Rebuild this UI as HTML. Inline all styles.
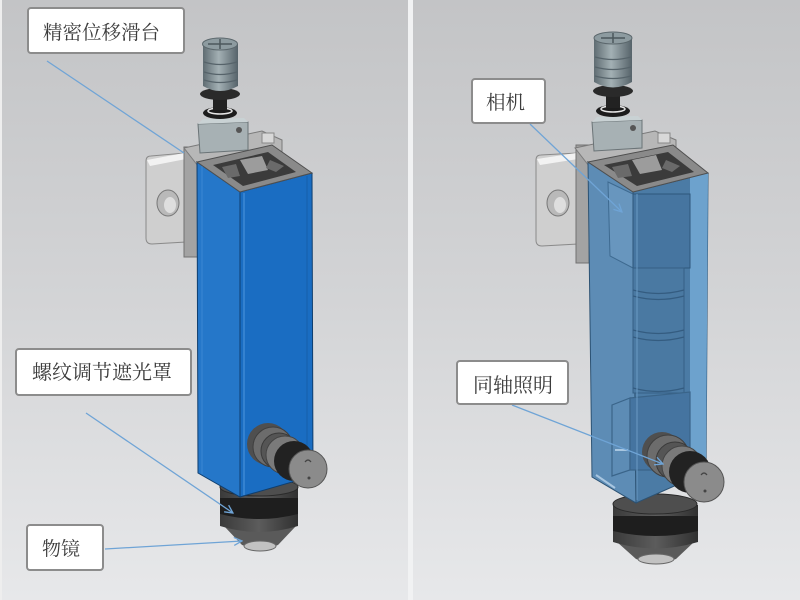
<!DOCTYPE html>
<html><head><meta charset="utf-8"><style>
html,body{margin:0;padding:0;width:800px;height:600px;overflow:hidden;background:#d6d7d9}
svg{display:block}
</style></head><body>
<svg width="800" height="600" viewBox="0 0 800 600" xmlns="http://www.w3.org/2000/svg">
<defs>
<linearGradient id="bg" x1="0" y1="0" x2="0" y2="1">
<stop offset="0" stop-color="#c3c4c6"/><stop offset="0.5" stop-color="#d3d4d6"/><stop offset="1" stop-color="#e7e8ea"/>
</linearGradient>
<linearGradient id="knob" x1="0" y1="0" x2="1" y2="0">
<stop offset="0" stop-color="#5f6c72"/><stop offset="0.45" stop-color="#a3b0b4"/><stop offset="1" stop-color="#56636a"/>
</linearGradient>
<linearGradient id="ring" x1="0" y1="0" x2="1" y2="0">
<stop offset="0" stop-color="#3a3a3a"/><stop offset="0.5" stop-color="#5c5c5c"/><stop offset="1" stop-color="#303030"/>
</linearGradient>
<marker id="ar" markerWidth="10" markerHeight="10" refX="9" refY="5" orient="auto" markerUnits="userSpaceOnUse">
<path d="M1,1 L9,5 L1,9" fill="none" stroke="#6fa4d6" stroke-width="1.3"/>
</marker>
</defs>
<rect width="800" height="600" fill="url(#bg)"/>
<rect x="0" y="0" width="2" height="600" fill="#eeeeee"/>
<rect x="408" y="0" width="5" height="600" fill="#f1f2f3"/>

<!-- ================= LEFT DEVICE ================= -->
<!-- bracket plate -->
<path d="M146,161 Q146,156 151,156 L185,153 L186,242 L152,244 Q146,244 146,238 Z" fill="#cfcfcf" stroke="#8a8a8a"/>
<path d="M147,160 L184,153 L186,159 L150,166 Z" fill="#f2f2f2"/>
<ellipse cx="168" cy="203" rx="11" ry="13" fill="#b9b9b9" stroke="#777"/>
<ellipse cx="170" cy="205" rx="6" ry="8" fill="#dedede"/>
<!-- gray strip -->
<rect x="184" y="147" width="14" height="110" fill="#a3a3a3" stroke="#727272"/>
<!-- gray plate behind top -->
<polygon points="184,148 262,131 282,140 282,152 198,166" fill="#b7b7b7" stroke="#7a7a7a"/>
<rect x="262" y="133" width="12" height="10" fill="#d8d8d8" stroke="#888"/>
<!-- knob block -->
<polygon points="198,124 248,122 248,150 200,153" fill="#a7b1b4" stroke="#6a7376"/>
<polygon points="198,124 248,122 244,118 203,119" fill="#c9d2d4"/>
<circle cx="239" cy="130" r="3" fill="#555"/>
<!-- rings -->
<ellipse cx="220" cy="113" rx="17" ry="6" fill="#1c1c1c"/>
<ellipse cx="220" cy="111" rx="12" ry="3" fill="none" stroke="#e6e6e6" stroke-width="1.5"/>
<rect x="213" y="96" width="14" height="14" fill="#222"/>
<ellipse cx="220" cy="94" rx="20" ry="6" fill="#2a2a2a"/>
<!-- knob -->
<path d="M203,44 L238,44 L238,86 Q220,96 203,86 Z" fill="url(#knob)"/>
<ellipse cx="220" cy="44" rx="17.5" ry="6" fill="#8d9ba0" stroke="#5b676c"/>
<path d="M208,44 L232,44 M220,39 L220,49" stroke="#4c585c" stroke-width="1.5"/>
<path d="M204,62 Q220,67 237,62 M204,72 Q220,77 237,72 M204,80 Q220,85 237,80" fill="none" stroke="#56636a" stroke-width="1.2"/>

<!-- lens ring (behind box) -->
<path d="M224,526 L242,545 Q260,552 278,545 L296,526 Z" fill="#5a5a5a"/>
<ellipse cx="260" cy="546" rx="16" ry="5" fill="#c2c2c2" stroke="#666"/>
<path d="M220,488 L220,526 Q259,538 298,526 L298,488 Z" fill="url(#ring)"/>
<path d="M220,498 L298,498 L298,514 Q259,524 220,514 Z" fill="#1e1e1e"/>
<ellipse cx="259" cy="487" rx="39" ry="9" fill="#4e4e4e" stroke="#2a2a2a"/>

<!-- blue box -->
<polygon points="197,162 240,192 240,497 198,473" fill="#2577c9" stroke="#0f3e6e"/>
<polygon points="240,192 312,173 313,476 240,497" fill="#1a6dc2" stroke="#0f3e6e"/>
<line x1="244" y1="193" x2="244" y2="495" stroke="#4f98dd" stroke-width="1"/>
<line x1="307" y1="176" x2="307" y2="476" stroke="#1660aa" stroke-width="1"/>
<line x1="202" y1="166" x2="202" y2="474" stroke="#3b87d2" stroke-width="1"/>
<!-- top face -->
<polygon points="197,162 272,145 312,173 240,192" fill="#8a8a8a" stroke="#4f4f4f"/>
<polygon points="213,165 268,152 296,172 243,186" fill="#3b3b3b"/>
<polygon points="240,160 262,156 268,170 248,174" fill="#9c9c9c"/>
<polygon points="222,167 236,164 240,176 228,178" fill="#6a6a6a"/>
<polygon points="270,160 284,166 276,172 266,168" fill="#6a6a6a"/>

<!-- side knob left -->
<circle cx="268" cy="444" r="21" fill="#4f4f4f"/>
<circle cx="273" cy="447" r="20" fill="#6c6c6c" stroke="#3f3f3f"/>
<circle cx="279" cy="451" r="18" fill="#555" stroke="#3a3a3a"/>
<circle cx="285" cy="455" r="19" fill="#7a7a7a" stroke="#444"/>
<circle cx="294" cy="461" r="20" fill="#222"/>
<circle cx="308" cy="469" r="19" fill="#8b8b8b" stroke="#555"/>
<path d="M305,462 Q308,458 311,462" fill="none" stroke="#444" stroke-width="1.2"/>
<circle cx="309" cy="478" r="1.5" fill="#444"/>

<!-- ================= RIGHT DEVICE ================= -->
<path d="M536,160 Q536,155 541,155 L577,153 L578,244 L542,246 Q536,246 536,240 Z" fill="#cfcfcf" stroke="#8a8a8a"/>
<path d="M537,159 L576,153 L578,159 L540,165 Z" fill="#f2f2f2"/>
<ellipse cx="558" cy="203" rx="11" ry="13" fill="#b9b9b9" stroke="#777"/>
<ellipse cx="560" cy="205" rx="6" ry="8" fill="#dedede"/>
<rect x="576" y="145" width="13" height="118" fill="#a3a3a3" stroke="#727272"/>
<polygon points="575,148 655,131 676,140 676,152 589,166" fill="#b7b7b7" stroke="#7a7a7a"/>
<rect x="658" y="133" width="12" height="10" fill="#d8d8d8" stroke="#888"/>
<!-- knob block -->
<polygon points="592,122 642,120 642,148 594,151" fill="#a7b1b4" stroke="#6a7376"/>
<polygon points="592,122 642,120 638,116 597,117" fill="#c9d2d4"/>
<circle cx="633" cy="128" r="3" fill="#555"/>
<ellipse cx="613" cy="111" rx="17" ry="6" fill="#1c1c1c"/>
<ellipse cx="613" cy="109" rx="12" ry="3" fill="none" stroke="#e6e6e6" stroke-width="1.5"/>
<rect x="606" y="93" width="14" height="15" fill="#222"/>
<ellipse cx="613" cy="91" rx="20" ry="6" fill="#2a2a2a"/>
<path d="M594,38 L632,38 L632,82 Q613,93 594,82 Z" fill="url(#knob)"/>
<ellipse cx="613" cy="38" rx="19" ry="6" fill="#8d9ba0" stroke="#5b676c"/>
<path d="M601,38 L625,38 M613,33 L613,43" stroke="#4c585c" stroke-width="1.5"/>
<path d="M595,57 Q613,62 631,57 M595,67 Q613,72 631,67 M595,76 Q613,81 631,76" fill="none" stroke="#56636a" stroke-width="1.2"/>

<!-- lens ring right -->
<path d="M617,542 L636,559 Q656,566 676,559 L694,542 Z" fill="#5a5a5a"/>
<ellipse cx="656" cy="559" rx="18" ry="5" fill="#c2c2c2" stroke="#666"/>
<path d="M613,505 L613,542 Q655,555 698,542 L698,505 Z" fill="url(#ring)"/>
<path d="M613,516 L698,516 L698,531 Q655,541 613,531 Z" fill="#1e1e1e"/>
<ellipse cx="655" cy="504" rx="42" ry="10" fill="#4e4e4e" stroke="#2a2a2a"/>

<!-- translucent box -->
<polygon points="588,162 633,192 636,503 592,477" fill="#5d8cb5" stroke="#2c5273"/>
<polygon points="633,192 708,173 706,472 636,503" fill="#4b7ba5" stroke="#2c5273"/>
<polygon points="690,177 708,173 706,472 690,478" fill="#6da2cd"/>
<!-- inner camera -->
<polygon points="608,182 633,194 633,268 610,256" fill="#6896be" stroke="#3e6a90"/>
<rect x="633" y="194" width="57" height="74" fill="#4675a0" stroke="#2e577b"/>
<rect x="633" y="268" width="51" height="125" fill="#4a79a2" stroke="#355f85"/>
<path d="M633,290 Q658,297 684,290 M633,296 Q658,303 684,296 M633,330 Q658,337 684,330 M633,337 Q658,344 684,337 M633,388 Q658,395 684,388" fill="none" stroke="#345c80" stroke-width="1.2"/>
<polygon points="612,405 630,398 630,470 612,476" fill="none" stroke="#3a6489" stroke-width="1.2"/>
<polygon points="630,398 690,392 690,470 630,470" fill="#4574a0" stroke="#3a6489" stroke-width="1.2"/>
<path d="M615,450 L628,450 M596,475 L615,488" stroke="#a8c6e0" stroke-width="2"/>
<line x1="637" y1="194" x2="637" y2="500" stroke="#6a9ac4" stroke-width="1"/>
<!-- top face -->
<polygon points="588,162 673,145 708,173 633,192" fill="#8a8a8a" stroke="#4f4f4f"/>
<polygon points="604,165 668,152 694,172 637,186" fill="#3b3b3b"/>
<polygon points="632,160 656,155 662,170 640,174" fill="#9c9c9c"/>
<polygon points="612,167 628,164 632,176 618,178" fill="#6a6a6a"/>
<polygon points="666,160 680,166 672,172 662,168" fill="#6a6a6a"/>

<!-- side knob right -->
<circle cx="662" cy="452" r="20" fill="#4f4f4f"/>
<circle cx="668" cy="456" r="21" fill="#6c6c6c" stroke="#3f3f3f"/>
<circle cx="675" cy="461" r="19" fill="#555" stroke="#3a3a3a"/>
<circle cx="682" cy="466" r="20" fill="#7a7a7a" stroke="#444"/>
<circle cx="690" cy="472" r="21" fill="#222"/>
<circle cx="704" cy="482" r="20" fill="#8b8b8b" stroke="#555"/>
<path d="M701,475 Q704,471 707,475" fill="none" stroke="#444" stroke-width="1.2"/>
<circle cx="705" cy="491" r="1.5" fill="#444"/>

<!-- ================= LEADER LINES ================= -->
<g stroke="#6fa4d6" stroke-width="1.3" fill="none">
<line x1="47" y1="61" x2="184" y2="153"/>
<line x1="86" y1="413" x2="233" y2="513" marker-end="url(#ar)"/>
<path d="M105,549 Q170,545 242,541" marker-end="url(#ar)"/>
<line x1="530" y1="124" x2="622" y2="212" marker-end="url(#ar)"/>
<line x1="512" y1="405" x2="663" y2="464" marker-end="url(#ar)"/>
</g>

<!-- ================= LABELS ================= -->
<g fill="#ffffff" stroke="#8c8c8c" stroke-width="2">
<rect x="28" y="8" width="156" height="45" rx="3"/>
<rect x="16" y="349" width="175" height="46" rx="3"/>
<rect x="27" y="525" width="76" height="45" rx="3"/>
<rect x="472" y="79" width="73" height="44" rx="3"/>
<rect x="457" y="361" width="111" height="43" rx="3"/>
</g>
<g fill="#3c3c3c" font-family="'Liberation Serif','Noto Serif CJK SC','Noto Sans CJK SC',serif">
<text x="43" y="39" font-size="19.5">精密位移滑台</text>
<text x="32" y="379" font-size="20">螺纹调节遮光罩</text>
<text x="42" y="555" font-size="19">物镜</text>
<text x="486" y="109" font-size="19.5">相机</text>
<text x="473" y="392" font-size="20">同轴照明</text>
</g>
</svg>
</body></html>
